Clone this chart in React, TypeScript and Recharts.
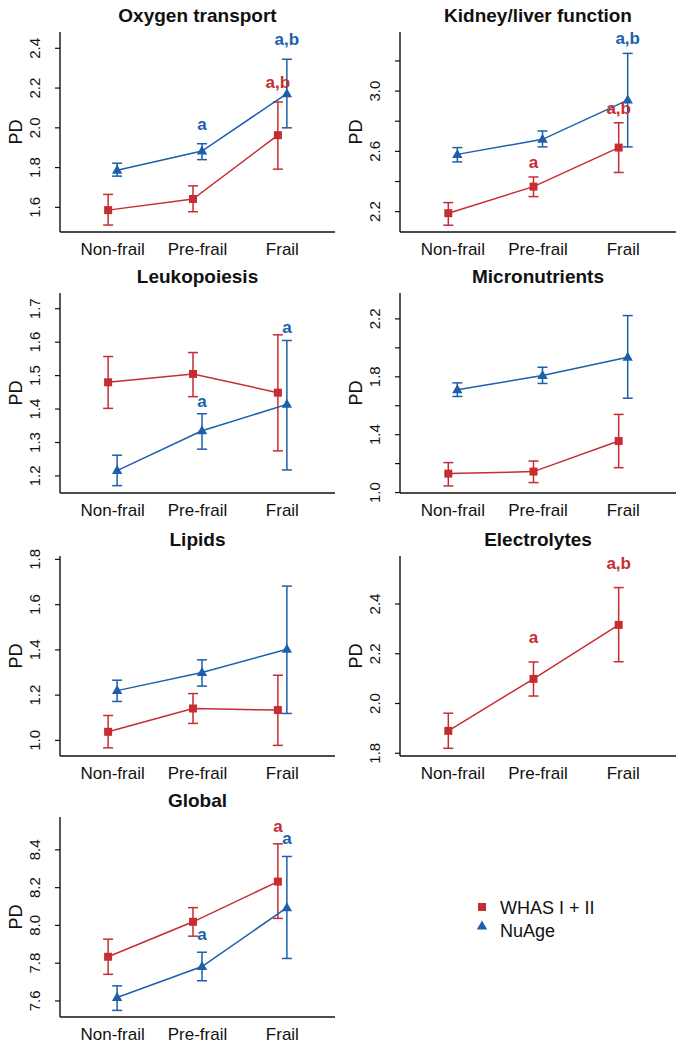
import React from "react";
import { LineChart, Line, XAxis, YAxis, ErrorBar, ReferenceDot, Legend } from "recharts";

const RED = "#c62d33";
const BLUE = "#1c5fab";
const FONT = '"Liberation Sans", Arial, Helvetica, sans-serif';

const groups = ["Non-frail", "Pre-frail", "Frail"];

// Oxygen transport
const o2Whas = [1.586, 1.642, 1.963];
const o2WhasLo = [1.511, 1.578, 1.792];
const o2WhasHi = [1.665, 1.708, 2.13];
const o2Nu = [1.787, 1.883, 2.172];
const o2NuLo = [1.757, 1.84, 2.0];
const o2NuHi = [1.822, 1.92, 2.345];
const o2Ticks = [1.6, 1.8, 2.0, 2.2, 2.4];

// Kidney/liver function
const kidWhas = [2.19, 2.366, 2.625];
const kidWhasLo = [2.11, 2.3, 2.46];
const kidWhasHi = [2.26, 2.43, 2.79];
const kidNu = [2.58, 2.68, 2.94];
const kidNuLo = [2.53, 2.63, 2.63];
const kidNuHi = [2.625, 2.735, 3.25];
const kidTicks = [2.2, 2.4, 2.6, 2.8, 3.0, 3.2];
const kidLabels = [2.2, 2.6, 3.0];

// Leukopoiesis
const leuWhas = [1.48, 1.505, 1.449];
const leuWhasLo = [1.402, 1.437, 1.275];
const leuWhasHi = [1.557, 1.569, 1.622];
const leuNu = [1.216, 1.335, 1.414];
const leuNuLo = [1.171, 1.28, 1.218];
const leuNuHi = [1.262, 1.386, 1.605];
const leuTicks = [1.2, 1.3, 1.4, 1.5, 1.6, 1.7];

// Micronutrients
const micWhas = [1.131, 1.145, 1.356];
const micWhasLo = [1.046, 1.069, 1.172];
const micWhasHi = [1.207, 1.218, 1.54];
const micNu = [1.71, 1.809, 1.935];
const micNuLo = [1.664, 1.754, 1.652];
const micNuHi = [1.758, 1.866, 2.223];
const micTicks = [1.0, 1.2, 1.4, 1.6, 1.8, 2.0, 2.2];
const micLabels = [1.0, 1.4, 1.8, 2.2];

// Lipids
const lipWhas = [1.038, 1.141, 1.134];
const lipWhasLo = [0.967, 1.075, 0.978];
const lipWhasHi = [1.11, 1.207, 1.288];
const lipNu = [1.22, 1.3, 1.403];
const lipNuLo = [1.172, 1.24, 1.119];
const lipNuHi = [1.266, 1.356, 1.682];
const lipTicks = [1.0, 1.2, 1.4, 1.6, 1.8];

// Electrolytes (WHAS only)
const eleWhas = [1.89, 2.099, 2.316];
const eleWhasLo = [1.82, 2.03, 2.168];
const eleWhasHi = [1.961, 2.167, 2.466];
const eleTicks = [1.8, 2.0, 2.2, 2.4];

// Global
const gloWhas = [7.834, 8.019, 8.232];
const gloWhasLo = [7.741, 7.943, 8.037];
const gloWhasHi = [7.927, 8.094, 8.432];
const gloNu = [7.618, 7.782, 8.094];
const gloNuLo = [7.55, 7.707, 7.825];
const gloNuHi = [7.68, 7.858, 8.365];
const gloTicks = [7.6, 7.8, 8.0, 8.2, 8.4];

const SHIFT = 0.053;

type Note = { series: "whas" | "nu"; idx: number; text: string };

function points(mean: number[], lo: number[], hi: number[], shift: number) {
  return mean.map((m, i) => ({ x: i + 1 + shift, y: m, err: [m - lo[i], hi[i] - m] }));
}

const Square = (p: any) => {
  if (p.cx == null || p.cy == null) return null;
  return <rect key={p.key} x={p.cx - 4} y={p.cy - 4} width={8} height={8} fill={RED} />;
};

const Triangle = (p: any) => {
  if (p.cx == null || p.cy == null) return null;
  const { cx, cy } = p;
  return (
    <polygon
      key={p.key}
      points={`${cx},${cy - 5.5} ${cx + 5.2},${cy + 3.5} ${cx - 5.2},${cy + 3.5}`}
      fill={BLUE}
    />
  );
};

const XTick = (p: any) => (
  <text x={p.x} y={p.y + 23} textAnchor="middle" fontSize={17} fontFamily={FONT} fill="#111">
    {groups[p.payload.value - 1]}
  </text>
);

function makeYTick(labelled: number[]) {
  return (p: any) => {
    const v = p.payload.value;
    if (!labelled.some((l) => Math.abs(l - v) < 1e-6)) return <g />;
    return (
      <text
        transform={`translate(${p.x},${p.y}) rotate(-90)`}
        textAnchor="middle"
        fontSize={15}
        fontFamily={FONT}
        fill="#111"
      >
        {v.toFixed(1)}
      </text>
    );
  };
}

const pdLabel = (p: any) => {
  const vb = p.viewBox;
  return (
    <text
      transform={`translate(${vb.x + 22},${vb.y + vb.height / 2}) rotate(-90)`}
      textAnchor="middle"
      fontSize={18}
      fontFamily={FONT}
      fill="#111"
    >
      PD
    </text>
  );
};

function noteLabel(text: string, color: string, gap: number) {
  return (p: any) => {
    const vb = p.viewBox;
    return (
      <text
        x={vb.x + (vb.width || 0) / 2}
        y={vb.y - gap}
        textAnchor="middle"
        fontSize={17}
        fontWeight="bold"
        fontFamily={FONT}
        fill={color}
      >
        {text}
      </text>
    );
  };
}

const LegendBox = () => (
  <svg width={200} height={50} style={{ display: "block" }}>
    <rect x={6} y={9} width={8} height={8} fill={RED} />
    <text x={28} y={19.5} fontSize={18} fontFamily={FONT} fill="#111">
      WHAS I + II
    </text>
    <polygon points="10,26.5 15.2,35.5 4.8,35.5" fill={BLUE} />
    <text x={28} y={42.5} fontSize={18} fontFamily={FONT} fill="#111">
      NuAge
    </text>
  </svg>
);

type PanelProps = {
  title: string;
  col: number;
  plotTop: number;
  domain: [number, number];
  ticks: number[];
  labelled: number[];
  whas: number[][];
  nu?: number[][];
  notes: Note[];
  gap: number;
  legend?: boolean;
};

function Panel({ title, col, plotTop, domain, ticks, labelled, whas, nu, notes, gap, legend }: PanelProps) {
  const left = col === 0 ? 0 : 340;
  const width = legend ? 686 : col === 0 ? 343 : 346;
  const right = legend ? 351 : col === 0 ? 8 : 10;
  const plotW = col === 0 ? 275 : 276;
  const whasData = points(whas[0], whas[1], whas[2], -SHIFT);
  const nuData = nu ? points(nu[0], nu[1], nu[2], SHIFT) : [];
  return (
    <>
      <div
        style={{
          position: "absolute",
          left: left + 60,
          top: plotTop - 27,
          width: plotW,
          textAlign: "center",
          fontFamily: FONT,
          fontWeight: "bold",
          fontSize: 19,
          lineHeight: "22px",
          color: "#111",
        }}
      >
        {title}
      </div>
      <div style={{ position: "absolute", left, top: plotTop - 32 }}>
        <LineChart width={width} height={262} margin={{ top: 32, right, bottom: 0, left: 0 }}>
          <XAxis
            type="number"
            dataKey="x"
            domain={[0.38, 3.62]}
            ticks={[1, 2, 3]}
            interval={0}
            allowDataOverflow
            tickLine={false}
            tickSize={0}
            tickMargin={0}
            tick={XTick}
            height={30}
            axisLine={{ stroke: "#111", strokeWidth: 1.4 }}
          />
          <YAxis
            type="number"
            dataKey="y"
            domain={domain}
            ticks={ticks}
            interval={0}
            allowDataOverflow
            width={60}
            tickSize={5}
            tickMargin={15}
            tickLine={{ stroke: "#111", strokeWidth: 1.2 }}
            axisLine={{ stroke: "#111", strokeWidth: 1.4 }}
            tick={makeYTick(labelled)}
            label={pdLabel}
          />
          <Line
            data={whasData}
            dataKey="y"
            name="WHAS I + II"
            stroke={RED}
            strokeWidth={1.5}
            dot={Square}
            activeDot={false}
            isAnimationActive={false}
          >
            <ErrorBar dataKey="err" direction="y" width={5} stroke={RED} strokeWidth={1.5} />
          </Line>
          {nu && (
            <Line
              data={nuData}
              dataKey="y"
              name="NuAge"
              stroke={BLUE}
              strokeWidth={1.5}
              dot={Triangle}
              activeDot={false}
              isAnimationActive={false}
            >
              <ErrorBar dataKey="err" direction="y" width={5} stroke={BLUE} strokeWidth={1.5} />
            </Line>
          )}
          {notes.map((n, k) => {
            const isNu = n.series === "nu";
            const src = isNu ? nu! : whas;
            return (
              <ReferenceDot
                key={k}
                x={n.idx + 1 + (isNu ? SHIFT : -SHIFT)}
                y={src[2][n.idx]}
                r={0}
                fill="none"
                stroke="none"
                ifOverflow="visible"
                label={noteLabel(n.text, isNu ? BLUE : RED, gap)}
              />
            );
          })}
          {legend && (
            <Legend
              layout="vertical"
              align="center"
              verticalAlign="middle"
              wrapperStyle={{ left: 472, top: 109, width: 200 }}
              content={LegendBox}
            />
          )}
        </LineChart>
      </div>
    </>
  );
}

export default function App() {
  return (
    <div
      style={{
        position: "absolute",
        left: 0,
        top: 0,
        width: 686,
        height: 1050,
        background: "#fff",
        overflow: "hidden",
      }}
    >
      <Panel
        title="Oxygen transport"
        col={0}
        plotTop={32}
        domain={[1.476, 2.482]}
        ticks={o2Ticks}
        labelled={o2Ticks}
        whas={[o2Whas, o2WhasLo, o2WhasHi]}
        nu={[o2Nu, o2NuLo, o2NuHi]}
        notes={[
          { series: "nu", idx: 1, text: "a" },
          { series: "whas", idx: 2, text: "a,b" },
          { series: "nu", idx: 2, text: "a,b" },
        ]}
        gap={14}
      />
      <Panel
        title="Kidney/liver function"
        col={1}
        plotTop={32}
        domain={[2.065, 3.392]}
        ticks={kidTicks}
        labelled={kidLabels}
        whas={[kidWhas, kidWhasLo, kidWhasHi]}
        nu={[kidNu, kidNuLo, kidNuHi]}
        notes={[
          { series: "whas", idx: 1, text: "a" },
          { series: "whas", idx: 2, text: "a,b" },
          { series: "nu", idx: 2, text: "a,b" },
        ]}
        gap={9}
      />
      <Panel
        title="Leukopoiesis"
        col={0}
        plotTop={293}
        domain={[1.149, 1.747]}
        ticks={leuTicks}
        labelled={leuTicks}
        whas={[leuWhas, leuWhasLo, leuWhasHi]}
        nu={[leuNu, leuNuLo, leuNuHi]}
        notes={[
          { series: "nu", idx: 1, text: "a" },
          { series: "nu", idx: 2, text: "a" },
        ]}
        gap={7}
      />
      <Panel
        title="Micronutrients"
        col={1}
        plotTop={293}
        domain={[0.997, 2.379]}
        ticks={micTicks}
        labelled={micLabels}
        whas={[micWhas, micWhasLo, micWhasHi]}
        nu={[micNu, micNuLo, micNuHi]}
        notes={[]}
        gap={10}
      />
      <Panel
        title="Lipids"
        col={0}
        plotTop={556}
        domain={[0.931, 1.815]}
        ticks={lipTicks}
        labelled={lipTicks}
        whas={[lipWhas, lipWhasLo, lipWhasHi]}
        nu={[lipNu, lipNuLo, lipNuHi]}
        notes={[]}
        gap={10}
      />
      <Panel
        title="Electrolytes"
        col={1}
        plotTop={556}
        domain={[1.789, 2.593]}
        ticks={eleTicks}
        labelled={eleTicks}
        whas={[eleWhas, eleWhasLo, eleWhasHi]}
        notes={[
          { series: "whas", idx: 1, text: "a" },
          { series: "whas", idx: 2, text: "a,b" },
        ]}
        gap={19}
      />
      <Panel
        title="Global"
        col={0}
        plotTop={817}
        domain={[7.515, 8.574]}
        ticks={gloTicks}
        labelled={gloTicks}
        whas={[gloWhas, gloWhasLo, gloWhasHi]}
        nu={[gloNu, gloNuLo, gloNuHi]}
        notes={[
          { series: "nu", idx: 1, text: "a" },
          { series: "whas", idx: 2, text: "a" },
          { series: "nu", idx: 2, text: "a" },
        ]}
        gap={12}
        legend
      />
    </div>
  );
}
